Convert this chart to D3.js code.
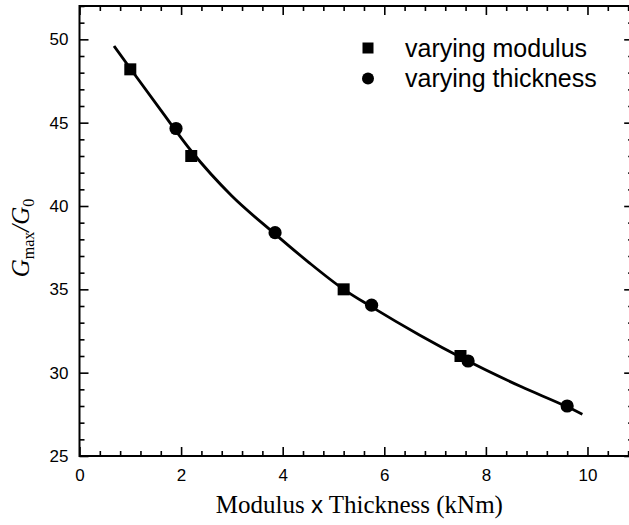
<!DOCTYPE html>
<html><head><meta charset="utf-8">
<script src="https://cdn.jsdelivr.net/npm/d3@7"></script>
<style>body{margin:0;background:#fff}svg{display:block}</style>
</head><body>
<svg id="c" width="629" height="525"></svg>
<script>
// Data
const squareX = [1.0, 2.2, 5.2, 7.5];
const squareY = [48.2, 43.0, 35.0, 31.0];
const circleX = [1.9, 3.85, 5.75, 7.65, 9.6];
const circleY = [44.65, 38.4, 34.05, 30.7, 28.0];
const curveX = [0.68, 1.0, 1.6, 2.2, 3.0, 3.8, 4.5, 5.2, 5.75, 6.7, 7.55, 8.7, 9.6, 9.9];
const curveY = [49.6, 48.25, 45.75, 43.3, 40.6, 38.45, 36.65, 35.0, 33.95, 32.25, 30.85, 29.15, 27.95, 27.5];
const xTicks = [0, 2, 4, 6, 8, 10];
const yTicks = [25, 30, 35, 40, 45, 50];
const legendLabels = ["varying modulus", "varying thickness"];

const svg = d3.select("#c");
const L = 79.5, R = 633.2, T = 6, B = 456;
const x = d3.scaleLinear().domain([0, 10.9]).range([L, R]);
const y = d3.scaleLinear().domain([25, 52]).range([B, T]);

const xMinor = d3.range(0, 10.9, 0.4).filter(v => Math.abs(v/2 - Math.round(v/2)) > 1e-6);
const yMinor = d3.range(25, 52.01, 1).filter(v => v % 5 !== 0);

function styleAxis(g){
  g.select(".domain").remove();
  g.selectAll(".tick line").attr("stroke","#000").attr("stroke-width",1.6);
}
const tickFont = "'Liberation Sans', Arial, sans-serif";

// bottom
svg.append("g").attr("transform",`translate(0,${B})`)
  .call(d3.axisBottom(x).tickValues(xTicks).tickSize(-9).tickPadding(13).tickFormat(d3.format("d")))
  .call(styleAxis)
  .call(g=>g.selectAll("text").attr("font-family",tickFont).attr("font-size",17).attr("fill","#000"));
svg.append("g").attr("transform",`translate(0,${B})`)
  .call(d3.axisBottom(x).tickValues(xMinor).tickSize(-5).tickFormat(""))
  .call(styleAxis);
// top
svg.append("g").attr("transform",`translate(0,${T})`)
  .call(d3.axisTop(x).tickValues(xTicks).tickSize(-9).tickFormat(""))
  .call(styleAxis);
svg.append("g").attr("transform",`translate(0,${T})`)
  .call(d3.axisTop(x).tickValues(xMinor).tickSize(-5).tickFormat(""))
  .call(styleAxis);
// left
svg.append("g").attr("transform",`translate(${L},0)`)
  .call(d3.axisLeft(y).tickValues(yTicks).tickSize(-9).tickPadding(11).tickFormat(d3.format("d")))
  .call(styleAxis)
  .call(g=>g.selectAll("text").attr("font-family",tickFont).attr("font-size",17).attr("fill","#000"));
svg.append("g").attr("transform",`translate(${L},0)`)
  .call(d3.axisLeft(y).tickValues(yMinor).tickSize(-5).tickFormat(""))
  .call(styleAxis);
// right
svg.append("g").attr("transform",`translate(${R},0)`)
  .call(d3.axisRight(y).tickValues(yTicks).tickSize(-9).tickFormat(""))
  .call(styleAxis);
svg.append("g").attr("transform",`translate(${R},0)`)
  .call(d3.axisRight(y).tickValues(yMinor).tickSize(-5).tickFormat(""))
  .call(styleAxis);

// frame
svg.append("rect").attr("x",L).attr("y",T).attr("width",R-L).attr("height",B-T)
  .attr("fill","none").attr("stroke","#000").attr("stroke-width",2);

// curve
const line = d3.line().x(d=>x(d[0])).y(d=>y(d[1])).curve(d3.curveMonotoneX);
svg.append("path").datum(curveX.map((v,i)=>[v,curveY[i]]))
  .attr("d",line).attr("fill","none").attr("stroke","#000").attr("stroke-width",2.8);

// markers
const sq = 12;
svg.append("g").selectAll("rect").data(squareX.map((v,i)=>[v,squareY[i]])).join("rect")
  .attr("x",d=>x(d[0])-sq/2).attr("y",d=>y(d[1])-sq/2).attr("width",sq).attr("height",sq).attr("fill","#000");
svg.append("g").selectAll("circle").data(circleX.map((v,i)=>[v,circleY[i]])).join("circle")
  .attr("cx",d=>x(d[0])).attr("cy",d=>y(d[1])).attr("r",6.6).attr("fill","#000");

// legend
const lg = svg.append("g");
lg.append("rect").attr("x",368-5.5).attr("y",48-5.5).attr("width",11).attr("height",11).attr("fill","#000");
lg.append("circle").attr("cx",368).attr("cy",78.5).attr("r",6).attr("fill","#000");
lg.selectAll("text").data(legendLabels).join("text")
  .attr("x",405).attr("y",(d,i)=>57+i*30)
  .attr("font-family",tickFont).attr("font-size",25).attr("fill","#000").text(d=>d);

// x title
const serif = "'Liberation Serif', 'Times New Roman', serif";
const xt = svg.append("text").attr("x",(L+R)/2 + 3).attr("y",513).attr("text-anchor","middle")
  .attr("font-family",serif).attr("font-size",25).attr("fill","#000");
xt.append("tspan").text("Modulus ");
xt.append("tspan").attr("font-family",tickFont).attr("font-size",24).text("x");
xt.append("tspan").text(" Thickness (kNm)");

// y title
const yt = svg.append("text").attr("transform","translate(29,238) rotate(-90)").attr("text-anchor","middle")
  .attr("font-family",serif).attr("font-size",25).attr("fill","#000");
yt.append("tspan").attr("font-style","italic").text("G");
yt.append("tspan").attr("font-size",16).attr("dy",5).text("max");
yt.append("tspan").attr("font-style","italic").attr("dy",-5).text("/G");
yt.append("tspan").attr("font-size",16).attr("dy",5).text("0");
</script>
</body></html>
